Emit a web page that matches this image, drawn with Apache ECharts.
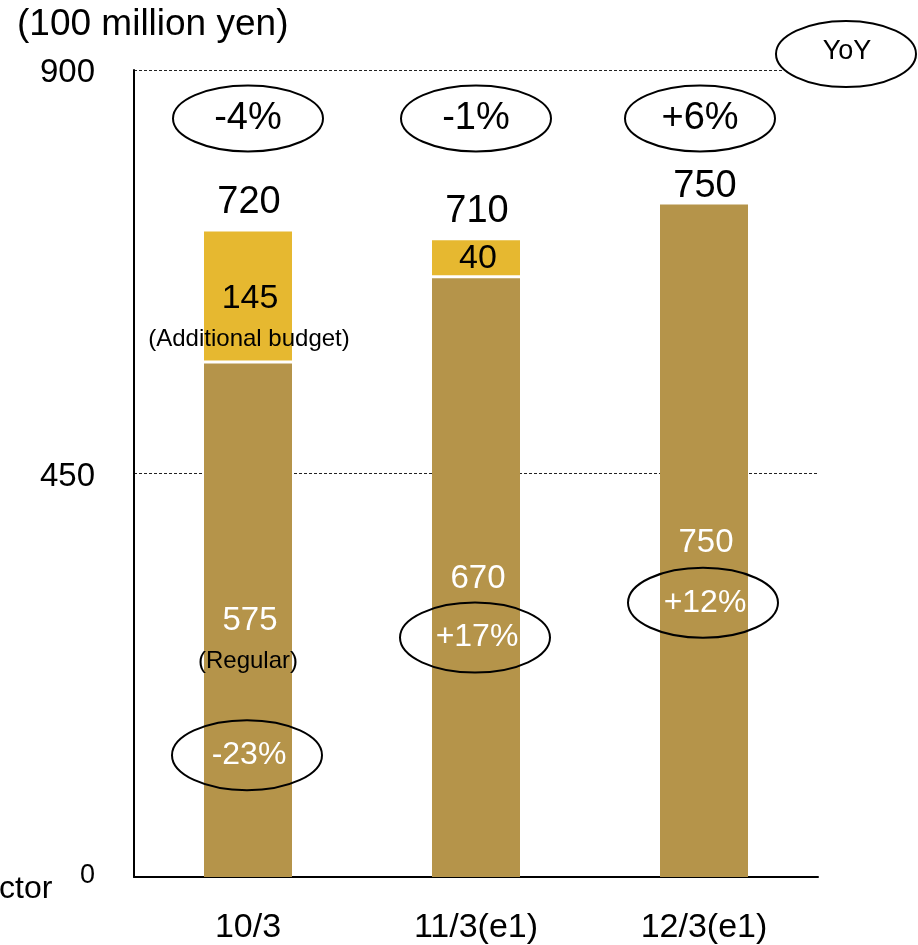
<!DOCTYPE html>
<html>
<head>
<meta charset="utf-8">
<script src="https://cdn.jsdelivr.net/npm/echarts@6/dist/echarts.min.js"></script>
<style>
  html, body { margin: 0; padding: 0; background: #fff; }
  #main { width: 918px; height: 945px; }
</style>
</head>
<body>
<div id="main"></div>
<script>
  // data
  var categories = ['10/3', '11/3(e1)', '12/3(e1)'];
  var regular = [575, 670, 750];
  var additional = [145, 40, 0];
  var totalYoY = ['-4%', '-1%', '+6%'];
  var regularYoY = ['-23%', '+17%', '+12%'];
  var yTicks = [0, 450, 900];

  var FONT = '"Liberation Sans", Arial, sans-serif';
  var C_REG = '#B5944A';
  var C_ADD = '#E6B830';

  var myChart = echarts.init(document.getElementById('main'));
  myChart.setOption({
    animation: false,
    grid: { left: 134, right: 100, top: 70, bottom: 68 },
    xAxis: {
      type: 'category',
      data: categories,
      axisLine: { lineStyle: { color: '#000', width: 2 } },
      axisTick: { inside: true, length: 8, lineStyle: { color: '#333', width: 1 } },
      axisLabel: { color: '#000', fontSize: 34, fontFamily: FONT, margin: 34 }
    },
    yAxis: {
      type: 'value',
      min: yTicks[0],
      max: yTicks[2],
      interval: yTicks[1],
      axisLine: { show: true, lineStyle: { color: '#000', width: 2 } },
      axisTick: { show: false },
      axisLabel: {
        color: '#000', fontFamily: FONT, margin: 39,
        formatter: function (v) { return v === 0 ? '{z|0}' : '{n|' + v + '}'; },
        rich: {
          n: { fontSize: 33, fontFamily: FONT, padding: [6, 0, 0, 0] },
          z: { fontSize: 27, fontFamily: FONT, padding: [0, 0, 2, 0] }
        }
      },
      splitLine: { lineStyle: { color: '#222', width: 1, type: [3, 2] } }
    },
    series: [
      {
        name: 'Regular', type: 'bar', stack: 'total', barWidth: 88,
        itemStyle: { color: C_REG },
        data: regular
      },
      {
        name: 'Additional budget', type: 'bar', stack: 'total', barWidth: 88,
        itemStyle: { color: C_ADD },
        data: additional
      }
    ]
  });

  // annotations placed through the chart's own scales
  var totalGap = [29, 29, 18];
  var regYoYGap = [134, 59, 60];
  var topYoYDx = [0, 0, -4];
  var g = [];
  function px(i, v) { return myChart.convertToPixel({ gridIndex: 0 }, [i, v]); }
  function txt(x, y, s, size, color) {
    g.push({ type: 'text', x: x, y: y, z: 20,
      style: { text: s, fontSize: size, fontFamily: FONT, fill: color, align: 'center', verticalAlign: 'middle' } });
  }
  function oval(x, y, rx, ry, fill) {
    g.push({ type: 'ellipse', z: 15, shape: { cx: x, cy: y, rx: rx, ry: ry },
      style: { fill: fill || 'none', stroke: '#000', lineWidth: 2 } });
  }
  var topY = px(0, 846)[1];
  for (var i = 0; i < categories.length; i++) {
    var total = regular[i] + additional[i];
    var pBase = px(i, 0), pReg = px(i, regular[i]), pTot = px(i, total);
    var cx = pBase[0];
    // total above bar
    txt(cx + 1, pTot[1] - totalGap[i], String(total), 38, '#000');
    // top YoY
    oval(cx + topYoYDx[i], topY, 75, 33);
    txt(cx + topYoYDx[i], topY, totalYoY[i], 38, '#000');
    // regular segment label
    var regMid = (pBase[1] + pReg[1]) / 2 + 2;
    txt(cx + 2, regMid, String(regular[i]), 33, '#fff');
    if (i === 0) txt(cx, regMid + 40, '(Regular)', 24, '#000');
    var oy = regMid + regYoYGap[i];
    oval(cx - 1, oy, 75, 35);
    txt(cx + 1, oy, regularYoY[i], 32, '#fff');
    // additional segment
    if (additional[i] > 0) {
      var addMid = (pReg[1] + pTot[1]) / 2 + (i === 0 ? 2 : 0);
      txt(cx + 2, addMid, String(additional[i]), 34, '#000');
      if (i === 0) txt(cx + 1, addMid + 41, '(Additional budget)', 24, '#000');
      g.push({ type: 'rect', z: 10, shape: { x: cx - 45, y: pReg[1] - 1, width: 90, height: 3 },
        style: { fill: '#fff' } });
    }
  }
  // YoY legend
  oval(846, 54, 70, 33, '#fff');
  txt(847, 52, 'YoY', 27, '#000');
  // unit and clipped side label
  g.push({ type: 'text', x: 17, y: 25, style: { text: '(100 million yen)', fontSize: 37, fontFamily: FONT, fill: '#000', verticalAlign: 'middle' } });
  g.push({ type: 'text', x: -1, y: 889, style: { text: 'ctor', fontSize: 32, fontFamily: FONT, fill: '#000', verticalAlign: 'middle' } });

  myChart.setOption({ graphic: g });
</script>
</body>
</html>
